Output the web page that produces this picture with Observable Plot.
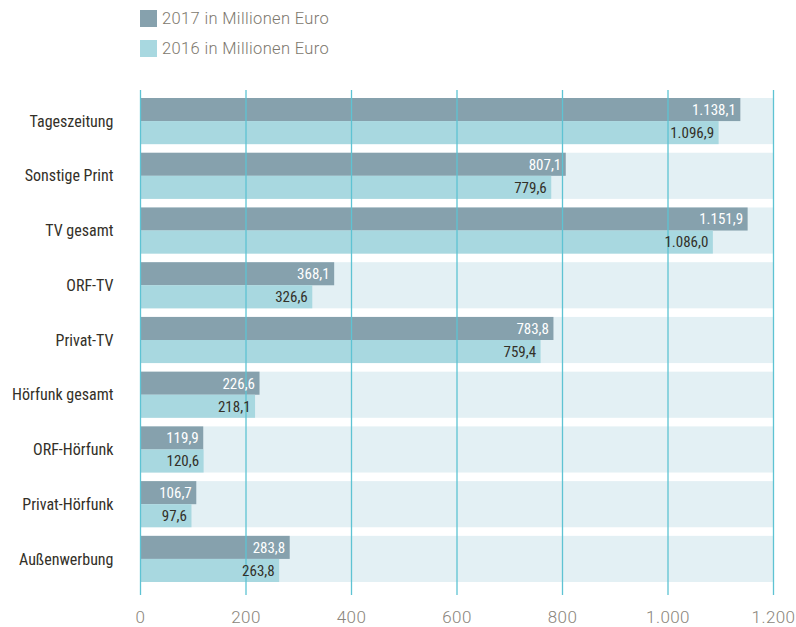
<!DOCTYPE html>
<html><head><meta charset="utf-8">
<script src="https://cdn.jsdelivr.net/npm/d3@7"></script>
<script src="https://cdn.jsdelivr.net/npm/@observablehq/plot@0.6"></script>
<style>
body{margin:0;background:#fff;}
#legend{height:80px;position:relative;font-family:Roboto,"Liberation Sans",sans-serif;font-weight:300;font-size:16.5px;color:#7d786e;letter-spacing:0.35px;}
.item{position:absolute;left:140px;display:flex;align-items:center;}
.sw{width:17px;height:17px;margin-right:5px;}
</style></head>
<body>
<div id="legend"></div>
<div id="chart"></div>
<script>
const categories = ["Tageszeitung","Sonstige Print","TV gesamt","ORF-TV","Privat-TV","Hörfunk gesamt","ORF-Hörfunk","Privat-Hörfunk","Außenwerbung"];
const values2017 = [1138.1, 807.1, 1151.9, 368.1, 783.8, 226.6, 119.9, 106.7, 283.8];
const values2016 = [1096.9, 779.6, 1086.0, 326.6, 759.4, 218.1, 120.6, 97.6, 263.8];
const seriesNames = ["2017 in Millionen Euro","2016 in Millionen Euro"];
const seriesColors = ["#86a1ad","#a8d8e0"];
const xTicks = [0,200,400,600,800,1000,1200];

const de = d3.formatLocale({decimal:",", thousands:".", grouping:[3], currency:["","€"]});
const fmtVal = de.format(",.1f");
const fmtTick = de.format(",.0f");

const rows = categories.map((c,i)=>({category:c, v2017:values2017[i], v2016:values2016[i]}));

// legend
const leg = document.getElementById("legend");
seriesNames.forEach((s,i)=>{
  const d = document.createElement("div");
  d.className="item"; d.style.top=(9+i*30)+"px";
  d.innerHTML = `<div class="sw" style="background:${seriesColors[i]}"></div><span>${s}</span>`;
  leg.appendChild(d);
});

const condensed = "'Liberation Sans Narrow','Roboto Condensed','Arial Narrow',sans-serif";
const yScale = {domain:categories, paddingInner:0.157, paddingOuter:0.192, align:0.381, round:false, label:null, tickSize:0, tickPadding:27};
const base = {width:796, height:547, marginTop:10, marginBottom:32, marginLeft:140, marginRight:23};
const xScale = {domain:[0,d3.max(xTicks)], ticks:xTicks, tickFormat:fmtTick, tickSize:0, tickPadding:15, label:null};

const probe = Plot.plot({...base, x:xScale, y:yScale, marks:[Plot.barX(rows,{y:"category", x:"v2017"})]});
const bw = probe.scale("y").bandwidth;

const plot = Plot.plot({
  ...base,
  x: xScale,
  y: yScale,
  marks: [
    Plot.barX(categories, {y: d=>d, x1: 0, x2: d3.max(xTicks), fill:"#e3f0f4"}),
    Plot.barX(rows, {y:"category", x:"v2017", fill:seriesColors[0], insetBottom: bw/2}),
    Plot.barX(rows, {y:"category", x:"v2016", fill:seriesColors[1], insetTop: bw/2}),
    Plot.ruleX(xTicks, {x: d=>d, stroke:"#5ec3d3", strokeWidth:1.3}),
    Plot.text(rows, {y:"category", x:"v2017", text: d=>fmtVal(d.v2017), dy:-bw/4, dx:-5, textAnchor:"end", fill:"#ffffff", fontSize:15, fontFamily:condensed}),
    Plot.text(rows, {y:"category", x:"v2016", text: d=>fmtVal(d.v2016), dy:bw/4, dx:-5, textAnchor:"end", fill:"#333028", fontSize:15, fontFamily:condensed})
  ]
});
document.getElementById("chart").appendChild(plot);
const svg = d3.select(plot);
svg.selectAll('[aria-label^="x-axis"] text').attr("fill","#8a857b").style("font-family","Roboto,'Liberation Sans',sans-serif").style("font-weight","300").style("font-size","17px").style("letter-spacing","0.4px");
svg.selectAll('[aria-label^="x-axis"]').attr("fill","#8a857b");
svg.selectAll('[aria-label^="y-axis"] text').attr("fill","#333028").style("font-family",condensed).style("font-size","16px");
svg.selectAll('[aria-label^="y-axis"]').attr("fill","#333028");
</script>
</body></html>
